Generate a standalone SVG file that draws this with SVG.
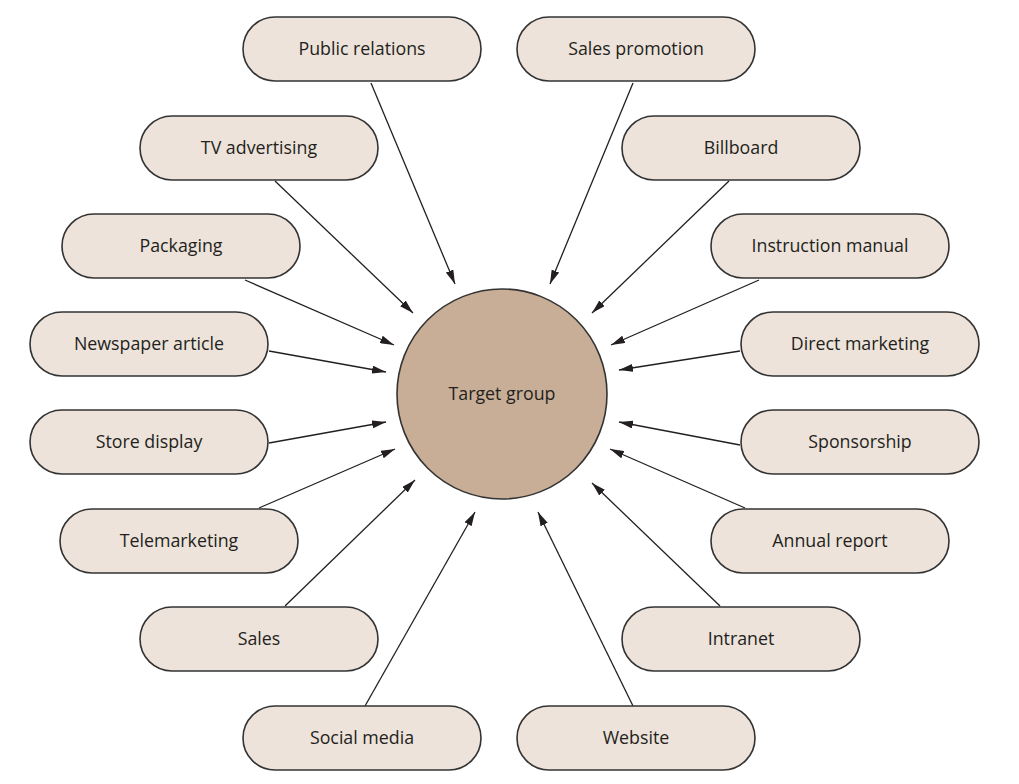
<svg xmlns="http://www.w3.org/2000/svg" width="1019" height="784" viewBox="0 0 1019 784">
<style>
.n rect{fill:#ede3da;stroke:#333;stroke-width:1.6}
.n text,.c text{font-family:"Open Sans","Noto Sans",sans-serif;font-size:17.8px;fill:#231f20;text-anchor:middle;dominant-baseline:central}
.e line{stroke:#231f20;stroke-width:1.3;marker-end:url(#ah)}
</style>
<defs>
<marker id="ah" viewBox="0 0 14 8" refX="14" refY="4" markerWidth="14" markerHeight="8" markerUnits="userSpaceOnUse" orient="auto">
<path d="M0,0 L14,4 L0,8 Z" fill="#231f20"/>
</marker>
</defs>
<rect width="1019" height="784" fill="#fff"/>
<g class="e">
<line x1="371" y1="83" x2="455" y2="284"/>
<line x1="633" y1="83" x2="550" y2="284"/>
<line x1="275" y1="181" x2="413" y2="313"/>
<line x1="729" y1="181" x2="592" y2="313"/>
<line x1="245" y1="280" x2="394" y2="345"/>
<line x1="759" y1="280" x2="611" y2="345"/>
<line x1="269" y1="351" x2="386" y2="372"/>
<line x1="740" y1="351" x2="619" y2="370"/>
<line x1="269" y1="443" x2="386" y2="422"/>
<line x1="740" y1="445" x2="619" y2="422"/>
<line x1="259" y1="508" x2="395" y2="449"/>
<line x1="745" y1="508" x2="610" y2="449"/>
<line x1="285" y1="606" x2="415" y2="480"/>
<line x1="720" y1="606" x2="592" y2="483"/>
<line x1="365" y1="706" x2="475" y2="512"/>
<line x1="633" y1="706" x2="538" y2="512"/>
</g>
<g id="target" class="c">
<circle cx="502" cy="394" r="105" fill="#c8ae97" stroke="#333" stroke-width="1.6"/>
<text x="502" y="393">Target group</text>
</g>
<g id="n1" class="n"><rect x="243" y="17" width="238" height="64" rx="32"/><text x="362" y="48">Public relations</text></g>
<g id="n2" class="n"><rect x="517" y="17" width="238" height="64" rx="32"/><text x="636" y="48">Sales promotion</text></g>
<g id="n3" class="n"><rect x="140" y="116" width="238" height="64" rx="32"/><text x="259" y="147">TV advertising</text></g>
<g id="n4" class="n"><rect x="622" y="116" width="238" height="64" rx="32"/><text x="741" y="147">Billboard</text></g>
<g id="n5" class="n"><rect x="62" y="214" width="238" height="64" rx="32"/><text x="181" y="245">Packaging</text></g>
<g id="n6" class="n"><rect x="711" y="214" width="238" height="64" rx="32"/><text x="830" y="245">Instruction manual</text></g>
<g id="n7" class="n"><rect x="30" y="312" width="238" height="64" rx="32"/><text x="149" y="343">Newspaper article</text></g>
<g id="n8" class="n"><rect x="741" y="312" width="238" height="64" rx="32"/><text x="860" y="343">Direct marketing</text></g>
<g id="n9" class="n"><rect x="30" y="410" width="238" height="64" rx="32"/><text x="149" y="441">Store display</text></g>
<g id="n10" class="n"><rect x="741" y="410" width="238" height="64" rx="32"/><text x="860" y="441">Sponsorship</text></g>
<g id="n11" class="n"><rect x="60" y="509" width="238" height="64" rx="32"/><text x="179" y="540">Telemarketing</text></g>
<g id="n12" class="n"><rect x="711" y="509" width="238" height="64" rx="32"/><text x="830" y="540">Annual report</text></g>
<g id="n13" class="n"><rect x="140" y="607" width="238" height="64" rx="32"/><text x="259" y="638">Sales</text></g>
<g id="n14" class="n"><rect x="622" y="607" width="238" height="64" rx="32"/><text x="741" y="638">Intranet</text></g>
<g id="n15" class="n"><rect x="243" y="706" width="238" height="64" rx="32"/><text x="362" y="737">Social media</text></g>
<g id="n16" class="n"><rect x="517" y="706" width="238" height="64" rx="32"/><text x="636" y="737">Website</text></g>
</svg>
